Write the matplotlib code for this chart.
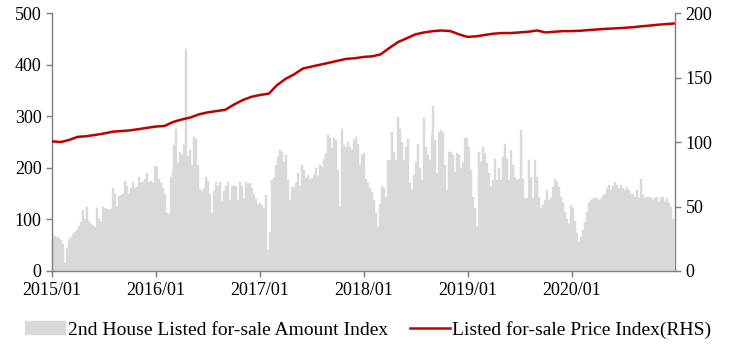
import numpy as np
import pandas as pd
import matplotlib
matplotlib.use("Agg")
import matplotlib.pyplot as plt
import matplotlib.dates as mdates

plt.rcParams['font.family'] = ['Liberation Serif', 'DejaVu Serif']

# weekly listed-for-sale amount index (left axis), one list per year
amt_2015 = [70, 68, 66, 64, 60, 52, 15, 45, 62, 66, 72, 76, 80, 88, 95, 118, 100, 125, 96, 92,
            88, 86, 122, 100, 95, 125, 122, 120, 118, 120, 160, 150, 125, 145, 148, 150, 175, 165, 150, 160,
            172, 160, 162, 183, 170, 172, 178, 190, 172, 175, 170, 203]
amt_2016 = [202, 178, 170, 160, 150, 112, 110, 182, 195, 245, 276, 210, 230, 225, 245, 431, 222, 235, 205, 260,
            255, 205, 158, 155, 160, 183, 175, 150, 112, 155, 172, 165, 173, 135, 155, 165, 172, 138, 164, 165,
            165, 138, 173, 165, 140, 172, 168, 170, 160, 150, 140, 130]
amt_2017 = [131, 128, 122, 147, 41, 76, 176, 180, 205, 221, 234, 231, 212, 225, 176, 137, 163, 163, 170, 189,
            165, 205, 196, 180, 186, 179, 180, 186, 199, 185, 205, 202, 218, 228, 264, 257, 238, 257, 254, 196,
            125, 276, 244, 241, 251, 241, 234, 254, 260, 247, 205, 225]
amt_2018 = [228, 178, 170, 160, 154, 137, 112, 86, 130, 165, 160, 144, 215, 215, 270, 231, 215, 299, 276, 251,
            215, 240, 255, 170, 157, 186, 212, 247, 200, 176, 296, 241, 225, 215, 264, 319, 254, 189, 270, 273,
            267, 205, 157, 231, 231, 225, 192, 228, 225, 200, 212, 257]
amt_2019 = [257, 241, 196, 144, 122, 86, 231, 212, 241, 228, 209, 189, 163, 176, 218, 176, 199, 176, 221, 247,
            218, 176, 234, 205, 183, 176, 179, 273, 179, 141, 141, 215, 183, 141, 215, 183, 144, 122, 128, 137,
            157, 137, 141, 163, 179, 173, 163, 144, 131, 115, 100, 92]
amt_2020 = [128, 122, 96, 73, 57, 65, 80, 95, 115, 131, 137, 140, 141, 141, 137, 140, 145, 150, 160, 167,
            157, 165, 173, 167, 160, 167, 160, 157, 163, 157, 150, 150, 144, 157, 141, 179, 147, 141, 144, 144,
            141, 137, 141, 144, 134, 141, 144, 134, 141, 131, 125, 100]

# monthly listed-for-sale price index (right axis), Jan 2015 .. Jan 2021
price = [100.5, 100, 101.5, 104, 104.5, 105.5, 106.5, 108, 108.5, 109, 110, 111,
         112, 112.5, 115.5, 117.5, 119, 121.5, 123, 124, 125, 129, 132.5, 135,
         136.5, 137.5, 144, 149, 152.5, 157, 158.5, 160, 161.5, 163, 164.5, 165,
         166, 166.5, 168, 173, 177.5, 180.5, 183.5, 185, 186, 186.5, 186, 183.5,
         181.5, 182, 183, 184, 184.5, 184.5, 185, 185.5, 186.5, 185, 185.5, 186,
         186, 186.3, 186.8, 187.3, 187.8, 188.1, 188.5, 189, 189.7, 190.3, 191, 191.5,
         192]

amount = amt_2015 + amt_2016 + amt_2017 + amt_2018 + amt_2019 + amt_2020
week_dates = pd.date_range('2015-01-01', periods=len(amount), freq='7D')
month_dates = pd.date_range('2015-01-01', periods=len(price), freq='MS')

fig = plt.figure(figsize=(7.34, 3.53), dpi=100)
ax = fig.add_axes([0.0708, 0.2323, 0.8488, 0.7307])
ax2 = ax.twinx()

bar_color = '#d9d9d9'
line_color = '#c00000'
spine_color = '#7f7f7f'

ax.bar(week_dates, amount, width=7, align='edge', color=bar_color,
       edgecolor=bar_color, linewidth=0.3, label='2nd House Listed for-sale Amount Index')
ax2.plot(month_dates, price, color=line_color, linewidth=1.8,
         label='Listed for-sale Price Index(RHS)')

ax.set_xlim(pd.Timestamp('2015-01-01'), pd.Timestamp('2020-12-29'))
ax.set_ylim(0, 500)
ax2.set_ylim(0, 200)
ax.set_yticks([0, 100, 200, 300, 400, 500])
ax2.set_yticks([0, 50, 100, 150, 200])

ax.xaxis.set_major_locator(mdates.YearLocator())
ax.xaxis.set_major_formatter(mdates.DateFormatter('%Y/%m'))

for a in (ax, ax2):
    a.spines['top'].set_visible(False)
    for s in ('left', 'right', 'bottom'):
        a.spines[s].set_color(spine_color)
        a.spines[s].set_linewidth(1.0)
    a.tick_params(direction='out', length=4, width=1.0, color=spine_color,
                  labelsize=13, labelcolor='#000000')
ax.spines['right'].set_visible(False)
ax2.spines['left'].set_visible(False)
ax2.spines['bottom'].set_visible(False)
ax.tick_params(axis='x', pad=4)

h1, l1 = ax.get_legend_handles_labels()
h2, l2 = ax2.get_legend_handles_labels()
fig.legend(h1 + h2, l1 + l2, loc='lower center', bbox_to_anchor=(0.502, -0.01),
           ncol=2, frameon=False, fontsize=14, handlelength=2.1,
           handletextpad=0.1, columnspacing=1.1)

fig.savefig('out.png', dpi=100)
